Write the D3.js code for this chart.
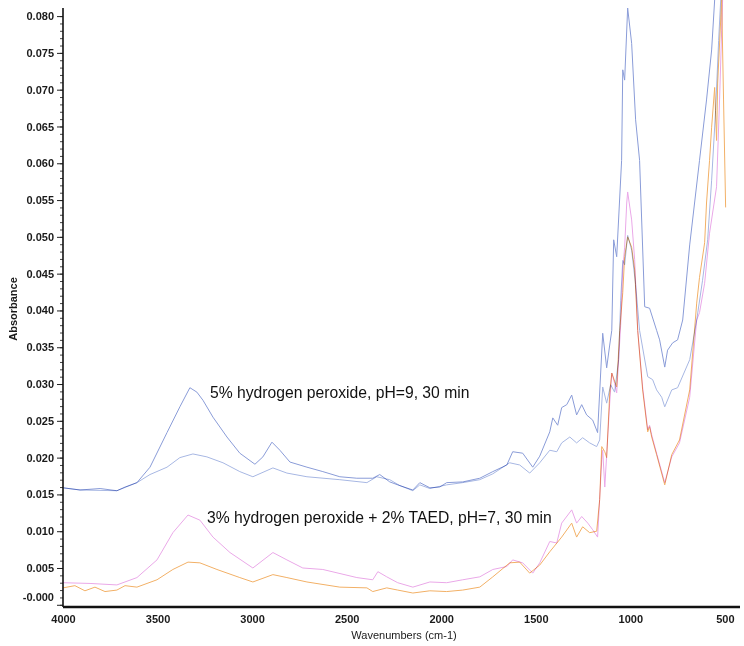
<!DOCTYPE html>
<html>
<head>
<meta charset="utf-8">
<script src="https://cdn.jsdelivr.net/npm/d3@7"></script>
<style>
  body { margin: 0; background: #fff; }
  svg { display: block; font-family: "Liberation Sans", Arial, sans-serif; }
  .spectrum { fill: none; stroke-width: 1; mix-blend-mode: multiply; }
</style>
</head>
<body>
<svg></svg>
<script>
// [wavenumber cm-1, absorbance]
let upperBlue = [
  [4000, 0.0159], [3910, 0.0156], [3804, 0.0158], [3715, 0.0155], [3672, 0.0160],
  [3609, 0.0166], [3540, 0.0187], [3450, 0.0234], [3382, 0.0269], [3329, 0.0295],
  [3292, 0.0289], [3260, 0.0278], [3207, 0.0255], [3133, 0.0228], [3065, 0.0206],
  [2985, 0.0191], [2943, 0.0201], [2895, 0.0221], [2853, 0.0210], [2800, 0.0194],
  [2710, 0.0187], [2626, 0.0181], [2536, 0.0174], [2446, 0.0172], [2362, 0.0172],
  [2325, 0.0177], [2272, 0.0167], [2230, 0.0163], [2150, 0.0156], [2113, 0.0166],
  [2060, 0.0159], [2008, 0.0160], [1971, 0.0166], [1886, 0.0167], [1796, 0.0172],
  [1727, 0.0181], [1653, 0.0190], [1622, 0.0208], [1569, 0.0206], [1516, 0.0187],
  [1479, 0.0202], [1426, 0.0235], [1410, 0.0254], [1384, 0.0244], [1363, 0.0268],
  [1336, 0.0272], [1310, 0.0285], [1284, 0.0258], [1257, 0.0272], [1231, 0.0258],
  [1199, 0.0251], [1173, 0.0234], [1146, 0.0369], [1125, 0.0322], [1109, 0.0353],
  [1098, 0.0373], [1088, 0.0496], [1072, 0.0473], [1046, 0.0604], [1040, 0.0727],
  [1030, 0.0713], [1014, 0.0811], [993, 0.0763], [972, 0.0659], [951, 0.0604],
  [924, 0.0405], [898, 0.0403], [861, 0.0373], [845, 0.0360], [818, 0.0323],
  [803, 0.0346], [776, 0.0356], [750, 0.0360], [723, 0.0387], [686, 0.0489],
  [634, 0.0604], [597, 0.0686], [570, 0.0754], [554, 0.0822]
];

let lowerBlue = [
  [4000, 0.0159], [3910, 0.0156], [3715, 0.0155], [3609, 0.0166], [3540, 0.0177],
  [3450, 0.0187], [3382, 0.0200], [3313, 0.0205], [3239, 0.0201], [3154, 0.0193],
  [3065, 0.0181], [2996, 0.0174], [2890, 0.0186], [2816, 0.0179], [2710, 0.0174],
  [2536, 0.0170], [2393, 0.0166], [2341, 0.0174], [2272, 0.0170], [2219, 0.0162],
  [2150, 0.0155], [2113, 0.0163], [2060, 0.0158], [1971, 0.0163], [1886, 0.0166],
  [1796, 0.0170], [1727, 0.0178], [1638, 0.0193], [1585, 0.0190], [1532, 0.0179],
  [1479, 0.0193], [1426, 0.0210], [1389, 0.0208], [1363, 0.0220], [1320, 0.0228],
  [1284, 0.0220], [1252, 0.0227], [1215, 0.0220], [1178, 0.0215], [1162, 0.0224],
  [1146, 0.0296], [1125, 0.0274], [1104, 0.0299], [1083, 0.0289], [1062, 0.0333],
  [1051, 0.0414], [1040, 0.0468], [1030, 0.0462], [1014, 0.0502], [993, 0.0482],
  [972, 0.0435], [951, 0.0373], [908, 0.0310], [882, 0.0306], [861, 0.0292],
  [834, 0.0282], [818, 0.0269], [781, 0.0292], [750, 0.0295], [686, 0.0333],
  [649, 0.0387], [618, 0.0441], [591, 0.0496], [570, 0.0577], [549, 0.0672],
  [533, 0.0767], [522, 0.0822]
];

let pinkSeries = [
  [4000, 0.0030], [3857, 0.0029], [3715, 0.0027], [3609, 0.0037], [3503, 0.0061],
  [3419, 0.0098], [3339, 0.0122], [3276, 0.0115], [3207, 0.0092], [3117, 0.0071],
  [2996, 0.0050], [2890, 0.0071], [2816, 0.0061], [2732, 0.0050], [2626, 0.0048],
  [2446, 0.0037], [2362, 0.0034], [2335, 0.0045], [2288, 0.0038], [2230, 0.0030],
  [2150, 0.0024], [2060, 0.0031], [1971, 0.0030], [1886, 0.0034], [1796, 0.0038],
  [1727, 0.0048], [1653, 0.0052], [1622, 0.0061], [1569, 0.0057], [1516, 0.0043],
  [1479, 0.0057], [1426, 0.0086], [1389, 0.0084], [1363, 0.0111], [1310, 0.0129],
  [1284, 0.0111], [1257, 0.0120], [1225, 0.0111], [1199, 0.0102], [1173, 0.0092],
  [1151, 0.0197], [1146, 0.0210], [1135, 0.0160], [1109, 0.0274], [1098, 0.0315],
  [1083, 0.0301], [1072, 0.0288], [1051, 0.0380], [1040, 0.0455], [1030, 0.0486],
  [1019, 0.0546], [1014, 0.0561], [993, 0.0523], [977, 0.0469], [961, 0.0373],
  [935, 0.0296], [908, 0.0238], [898, 0.0244], [887, 0.0231], [861, 0.0206],
  [818, 0.0166], [781, 0.0201], [740, 0.0220], [686, 0.0282], [649, 0.0387],
  [634, 0.0397], [607, 0.0437], [581, 0.0505], [544, 0.0568], [528, 0.0686],
  [517, 0.0781], [512, 0.0822]
];

let orangeSeries = [
  [4000, 0.0023], [3937, 0.0026], [3884, 0.0019], [3831, 0.0024], [3778, 0.0018],
  [3715, 0.0020], [3672, 0.0026], [3609, 0.0024], [3503, 0.0034], [3419, 0.0048],
  [3339, 0.0058], [3276, 0.0057], [3186, 0.0048], [3065, 0.0037], [2996, 0.0031],
  [2890, 0.0041], [2816, 0.0037], [2710, 0.0031], [2536, 0.0024], [2393, 0.0023],
  [2362, 0.0018], [2288, 0.0023], [2230, 0.0020], [2150, 0.0016], [2060, 0.0019],
  [1971, 0.0018], [1886, 0.0020], [1796, 0.0024], [1727, 0.0038], [1638, 0.0057],
  [1585, 0.0058], [1532, 0.0043], [1479, 0.0054], [1426, 0.0072], [1363, 0.0092],
  [1310, 0.0111], [1284, 0.0092], [1252, 0.0106], [1215, 0.0098], [1178, 0.0100],
  [1162, 0.0143], [1151, 0.0215], [1135, 0.0208], [1125, 0.0200], [1109, 0.0288],
  [1098, 0.0315], [1072, 0.0296], [1056, 0.0373], [1040, 0.0424], [1030, 0.0473],
  [1014, 0.0500], [993, 0.0486], [977, 0.0455], [961, 0.0373], [935, 0.0292],
  [908, 0.0235], [898, 0.0242], [887, 0.0228], [861, 0.0204], [818, 0.0163],
  [781, 0.0204], [740, 0.0224], [686, 0.0292], [649, 0.0410], [634, 0.0445],
  [607, 0.0492], [597, 0.0546], [581, 0.0604], [570, 0.0649], [554, 0.0703],
  [544, 0.0631], [538, 0.0709], [517, 0.0822], [507, 0.0686], [496, 0.0540]
];

let series = [
  { name: "upper blue", values: upperBlue, color: "#8a9cd8" },
  { name: "lower blue", values: lowerBlue, color: "#a7b7e3" },
  { name: "pink", values: pinkSeries, color: "#eaa8e8" },
  { name: "orange", values: orangeSeries, color: "#f2b066" }
];

let xTickValues = [4000, 3500, 3000, 2500, 2000, 1500, 1000, 500];
let yTickValues = [0, 0.005, 0.010, 0.015, 0.020, 0.025, 0.030, 0.035, 0.040,
  0.045, 0.050, 0.055, 0.060, 0.065, 0.070, 0.075, 0.080];
let yTickLabels = ["-0.000", "0.005", "0.010", "0.015", "0.020", "0.025", "0.030",
  "0.035", "0.040", "0.045", "0.050", "0.055", "0.060", "0.065", "0.070", "0.075", "0.080"];

let annotations = [
  { text: "5% hydrogen peroxide, pH=9, 30 min", x: 210, y: 398 },
  { text: "3% hydrogen peroxide + 2% TAED, pH=7, 30 min", x: 207, y: 523 }
];

let width = 744;
let height = 646;
let plotLeft = 63;
let plotRight = 740;
let plotTop = 8;
let plotBottom = 607;

let svg = d3.select("svg").attr("width", width).attr("height", height);

let xScale = d3.scaleLinear().domain([4000, 420]).range([plotLeft, plotRight]);
let yScale = d3.scaleLinear().domain([-0.0003, 0.0811]).range([plotBottom, plotTop]);

svg.append("rect").attr("width", width).attr("height", height).attr("fill", "#fff");

svg.append("clipPath")
  .attr("id", "plot-clip")
  .append("rect")
  .attr("x", plotLeft)
  .attr("y", 0)
  .attr("width", plotRight - plotLeft)
  .attr("height", plotBottom);

let line = d3.line()
  .x((d) => xScale(d[0]))
  .y((d) => yScale(d[1]));

svg.append("g")
  .attr("clip-path", "url(#plot-clip)")
  .selectAll("path")
  .data(series)
  .enter()
  .append("path")
  .attr("class", "spectrum")
  .attr("stroke", (s) => s.color)
  .attr("d", (s) => line(s.values));

// y axis: major ticks with labels, minor every 0.001
let yMinor = d3.range(0, 81).map((i) => i / 1000);

let yAxisMinor = d3.axisLeft(yScale).tickValues(yMinor).tickSize(3).tickFormat("");
svg.append("g")
  .attr("transform", "translate(" + plotLeft + ",0)")
  .call(yAxisMinor)
  .call((g) => g.select(".domain").remove())
  .call((g) => g.selectAll("line").attr("stroke", "#444"));

let yAxis = d3.axisLeft(yScale)
  .tickValues(yTickValues)
  .tickSize(6)
  .tickPadding(3)
  .tickFormat((d, i) => yTickLabels[i]);

svg.append("g")
  .attr("id", "y-axis")
  .attr("transform", "translate(" + plotLeft + ",0)")
  .call(yAxis)
  .call((g) => g.select(".domain").remove())
  .call((g) => g.selectAll("line").attr("stroke", "#222"))
  .call((g) => g.selectAll("text")
    .attr("font-size", 11)
    .attr("font-weight", "bold")
    .attr("font-family", "Liberation Sans, Arial, sans-serif")
    .attr("fill", "#1a1a1a"))
  .call((g) => g.selectAll(".tick").filter((d) => d === 0).select("text").attr("dy", "-0.4em"));

svg.append("line")
  .attr("x1", plotLeft).attr("x2", plotLeft)
  .attr("y1", plotTop).attr("y2", plotBottom)
  .attr("stroke", "#111")
  .attr("stroke-width", 1.6);

// x axis
let xAxis = d3.axisBottom(xScale)
  .tickValues(xTickValues)
  .tickSize(0)
  .tickPadding(8)
  .tickFormat(d3.format("d"));

svg.append("g")
  .attr("id", "x-axis")
  .attr("transform", "translate(0," + plotBottom + ")")
  .call(xAxis)
  .call((g) => g.select(".domain").remove())
  .call((g) => g.selectAll("text")
    .attr("font-size", 11)
    .attr("font-weight", "bold")
    .attr("font-family", "Liberation Sans, Arial, sans-serif")
    .attr("fill", "#1a1a1a"));

svg.append("line")
  .attr("x1", plotLeft).attr("x2", plotRight)
  .attr("y1", plotBottom).attr("y2", plotBottom)
  .attr("stroke", "#111")
  .attr("stroke-width", 2.4);

// axis titles
svg.append("text")
  .attr("x", 404)
  .attr("y", 639)
  .attr("text-anchor", "middle")
  .attr("font-size", 11)
  .attr("fill", "#1a1a1a")
  .text("Wavenumbers (cm-1)");

svg.append("text")
  .attr("transform", "translate(17,309) rotate(-90)")
  .attr("text-anchor", "middle")
  .attr("font-size", 11)
  .attr("font-weight", "bold")
  .attr("fill", "#1a1a1a")
  .text("Absorbance");

svg.selectAll(".note")
  .data(annotations)
  .enter()
  .append("text")
  .attr("class", "note")
  .attr("x", (d) => d.x)
  .attr("y", (d) => d.y)
  .attr("font-size", 15.7)
  .attr("fill", "#111")
  .text((d) => d.text);
</script>
</body>
</html>
